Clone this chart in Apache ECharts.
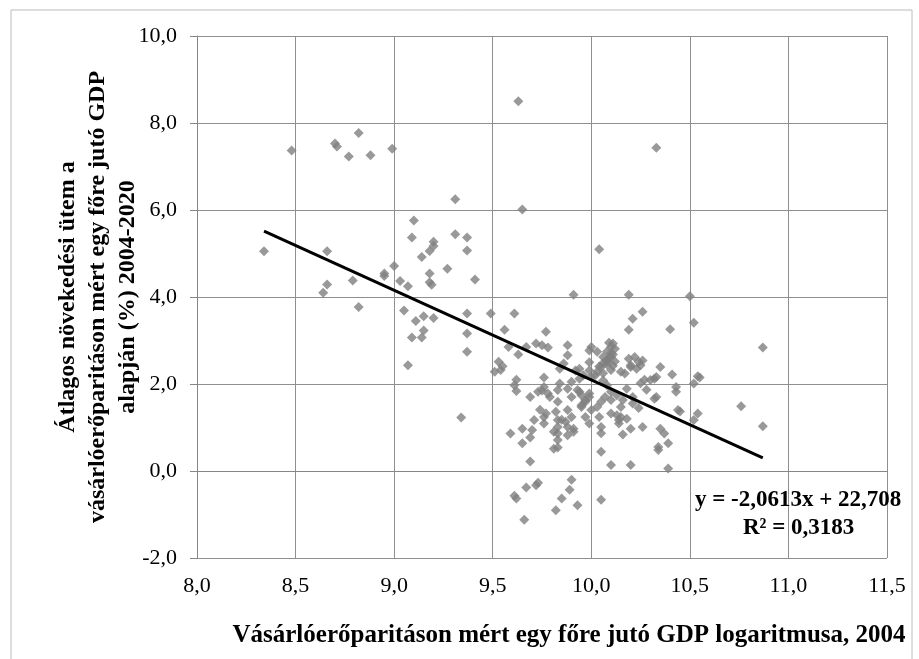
<!DOCTYPE html>
<html>
<head>
<meta charset="utf-8">
<title>GDP növekedés</title>
<script src="https://cdn.jsdelivr.net/npm/echarts@6/dist/echarts.min.js"></script>
<style>
    html, body { margin: 0; padding: 0; background: #fff; }
    #chart { width: 919px; height: 659px; }
</style>
</head>
<body>
<div id="chart"></div>
<script>
// log GDP per capita (PPP) 2004  vs  average growth 2004-2020 (%)
var countries = [
    [9.63, 8.50], [8.48, 7.37], [8.70, 7.53], [8.71, 7.46], [8.82, 7.77], [8.77, 7.23],
    [8.88, 7.26], [8.99, 7.41], [10.33, 7.43], [9.31, 6.25], [9.65, 6.01], [9.10, 5.76],
    [9.09, 5.37], [9.31, 5.44], [9.37, 5.37], [9.20, 5.27], [9.20, 5.17], [9.18, 5.06],
    [9.37, 5.07], [9.14, 4.92], [8.34, 5.05], [8.66, 5.05], [10.04, 5.10], [9.00, 4.71],
    [9.27, 4.65], [8.95, 4.54], [8.95, 4.48], [8.66, 4.29], [8.64, 4.10], [8.79, 4.38],
    [8.82, 3.77], [9.03, 4.37], [9.07, 4.25], [9.18, 4.54], [9.18, 4.34], [9.19, 4.28],
    [9.41, 4.40], [9.05, 3.69], [9.11, 3.45], [9.15, 3.56], [9.20, 3.52], [9.15, 3.23],
    [9.09, 3.07], [9.14, 3.07], [9.07, 2.43], [9.37, 3.62], [9.37, 3.16], [9.37, 2.74],
    [9.34, 1.23], [9.49, 3.62], [9.61, 3.62], [9.56, 3.25], [9.77, 3.20], [9.58, 2.85],
    [9.63, 2.68], [9.67, 2.85], [9.72, 2.93], [9.75, 2.89], [9.78, 2.84], [9.53, 2.51],
    [9.55, 2.41], [9.51, 2.28], [9.54, 2.32], [9.76, 2.15], [9.62, 2.10], [9.61, 1.97],
    [9.62, 1.84], [9.69, 1.70], [9.75, 1.85], [9.78, 1.78], [9.76, 1.93], [9.74, 1.41],
    [9.77, 1.32], [9.76, 1.24], [9.76, 1.09], [9.71, 1.17], [9.59, 0.86], [9.65, 0.97],
    [9.65, 0.64], [9.69, 0.77], [9.69, 0.22], [9.81, 0.90], [9.81, 0.51], [9.67, -0.38],
    [9.72, -0.33], [9.73, -0.27], [9.61, -0.57], [9.62, -0.63], [9.66, -1.12], [9.82, -0.90],
    [9.85, -0.63], [9.90, -0.20], [9.89, -0.43], [9.93, -0.79], [10.05, -0.66], [9.91, 4.05],
    [10.19, 4.05], [10.50, 4.02], [10.26, 3.66], [10.21, 3.50], [10.19, 3.25], [10.40, 3.26],
    [10.52, 3.41], [10.87, 2.84], [10.54, 2.18], [10.55, 2.15], [10.52, 2.01], [10.76, 1.49],
    [10.87, 1.03], [10.54, 1.32], [10.52, 1.17], [10.45, 1.37], [10.41, 2.22], [10.43, 1.93],
    [10.43, 1.82], [10.35, 2.39], [10.33, 2.16], [10.33, 1.70], [10.35, 0.97], [10.37, 0.86],
    [10.39, 0.64], [10.34, 0.48], [10.39, 0.06], [10.20, 0.14], [10.10, 0.14], [10.05, 0.44],
    [10.05, 0.87], [10.14, 1.09], [10.15, 1.24], [10.16, 0.84], [10.20, 0.97], [10.26, 1.01],
    [10.24, 1.45], [10.28, 1.87], [10.25, 2.02], [10.27, 2.10], [10.25, 2.43], [10.26, 2.54],
    [10.22, 2.62], [10.20, 2.39], [10.32, 2.12], [10.30, 2.09], [10.32, 1.66], [10.18, 1.89],
    [10.10, 1.82], [10.13, 1.74], [10.16, 1.63], [10.44, 1.40], [10.13, 1.28], [10.14, 1.17],
    [10.18, 1.20], [10.34, 0.55], [10.17, 2.24], [10.15, 2.28], [10.19, 2.58], [10.20, 2.43],
    [10.23, 2.35], [10.24, 2.51], [10.09, 2.95], [10.10, 2.85], [10.08, 2.75], [10.11, 2.68],
    [10.09, 2.60], [10.12, 2.52], [10.08, 2.45], [10.11, 2.42], [9.88, 2.89], [9.88, 2.66],
    [9.84, 2.35], [9.86, 2.47], [10.00, 2.85], [10.03, 2.74], [9.99, 2.50], [10.04, 2.40],
    [10.06, 2.48], [10.08, 2.55], [10.10, 2.32], [10.06, 2.25], [10.02, 2.20], [9.92, 2.31],
    [9.94, 2.12], [9.90, 2.05], [9.73, 1.82], [9.79, 1.70], [9.83, 1.59], [9.84, 2.01],
    [9.83, 1.86], [9.88, 1.89], [9.90, 1.70], [9.94, 1.82], [9.97, 1.63], [9.95, 1.51],
    [9.99, 1.78], [9.82, 1.36], [9.83, 1.17], [9.83, 1.01], [9.88, 1.40], [9.90, 1.24],
    [9.87, 1.13], [9.88, 1.01], [9.91, 0.97], [9.97, 1.24], [9.99, 1.09], [10.00, 1.40],
    [10.04, 1.24], [10.05, 1.01], [9.83, 0.86], [9.83, 0.71], [9.70, 0.94], [9.88, 0.82],
    [10.03, 1.47], [10.05, 1.59], [10.07, 1.70], [10.10, 1.63], [9.99, 2.77], [10.06, 2.62],
    [10.08, 2.51], [10.10, 2.70], [10.11, 2.93], [10.12, 2.81], [10.10, 2.62], [9.94, 2.35],
    [9.96, 2.20], [9.99, 2.31], [10.00, 2.16], [10.03, 2.28], [10.05, 2.39], [10.06, 2.08],
    [10.08, 1.97], [9.93, 1.86], [9.95, 1.74], [9.97, 1.59], [9.99, 1.70], [9.83, 0.54],
    [9.85, 1.18], [9.91, 0.90], [9.95, 1.47], [10.10, 1.32], [10.15, 1.47], [10.21, 1.70],
    [10.21, 1.55]
];

// linear trend (from the chart)
var slope = -2.0613;
var intercept = 22.708;
var rSquared = '0,3183';
var trendRange = [8.34, 10.87];

var xAxisRange = [8, 11.5, 0.5];
var yAxisRange = [-2, 10, 2];

var xTitle = 'Vásárlóerőparitáson mért egy főre jutó GDP logaritmusa, 2004';
var yTitle = 'Átlagos növekedési ütem a\nvásárlóerőparitáson mért egy főre jutó GDP\nalapján (%) 2004-2020';

function hu(v) {
    return v.toFixed(1).replace('.', ',');
}

var trendData = trendRange.map(function (x) {
    return [x, slope * x + intercept];
});

var serif = '"Liberation Serif", "Times New Roman", serif';
var myChart = echarts.init(document.getElementById('chart'));

var option = {
    animation: false,
    backgroundColor: '#fff',
    textStyle: { fontFamily: serif },
    grid: { left: 197, right: 32, top: 36, bottom: 101 },
    xAxis: {
        type: 'value',
        min: xAxisRange[0], max: xAxisRange[1], interval: xAxisRange[2],
        name: xTitle,
        nameLocation: 'middle',
        nameGap: 65,
        nameMoveOverlap: false,
        nameTextStyle: { fontFamily: serif, fontSize: 25, fontWeight: 'bold', color: '#000', padding: [0, 0, 0, 54] },
        axisLine: { lineStyle: { color: '#868686', width: 1 } },
        axisTick: { show: false },
        axisLabel: { margin: 17, fontSize: 22, color: '#000', fontFamily: serif, formatter: hu },
        splitLine: { show: true, lineStyle: { color: '#8f8f8f', width: 1 } }
    },
    yAxis: {
        type: 'value',
        min: yAxisRange[0], max: yAxisRange[1], interval: yAxisRange[2],
        name: yTitle,
        nameLocation: 'middle',
        nameGap: 54,
        nameMoveOverlap: false,
        nameTextStyle: { fontFamily: serif, fontSize: 24, fontWeight: 'bold', color: '#000', lineHeight: 30 },
        axisLine: { show: true, lineStyle: { color: '#868686', width: 1 } },
        axisTick: { show: true, length: 7, lineStyle: { color: '#868686' } },
        axisLabel: { margin: 20, fontSize: 22, color: '#000', fontFamily: serif, formatter: hu },
        splitLine: { show: true, lineStyle: { color: '#8f8f8f', width: 1 } }
    },
    graphic: [
        {
            type: 'rect',
            shape: { x: 11, y: 10, width: 901, height: 700 },
            style: { fill: 'none', stroke: '#bcbcbc', lineWidth: 1 },
            silent: true
        },
        {
            type: 'text',
            left: 695, top: 489,
            style: {
                text: 'y = -2,0613x + 22,708',
                font: 'bold 23px ' + serif,
                fill: '#000'
            },
            z: 100
        },
        {
            type: 'text',
            left: 743, top: 517,
            style: {
                text: 'R² = ' + rSquared,
                font: 'bold 23px ' + serif,
                fill: '#000'
            },
            z: 100
        }
    ],
    series: [
        {
            name: 'országok',
            type: 'scatter',
            symbol: 'diamond',
            symbolSize: 10,
            itemStyle: { color: '#808080' },
            data: countries
        },
        {
            name: 'trend',
            type: 'line',
            data: trendData,
            symbol: 'none',
            silent: true,
            z: 5,
            lineStyle: { color: '#000', width: 3 }
        }
    ]
};

myChart.setOption(option);
</script>
</body>
</html>
